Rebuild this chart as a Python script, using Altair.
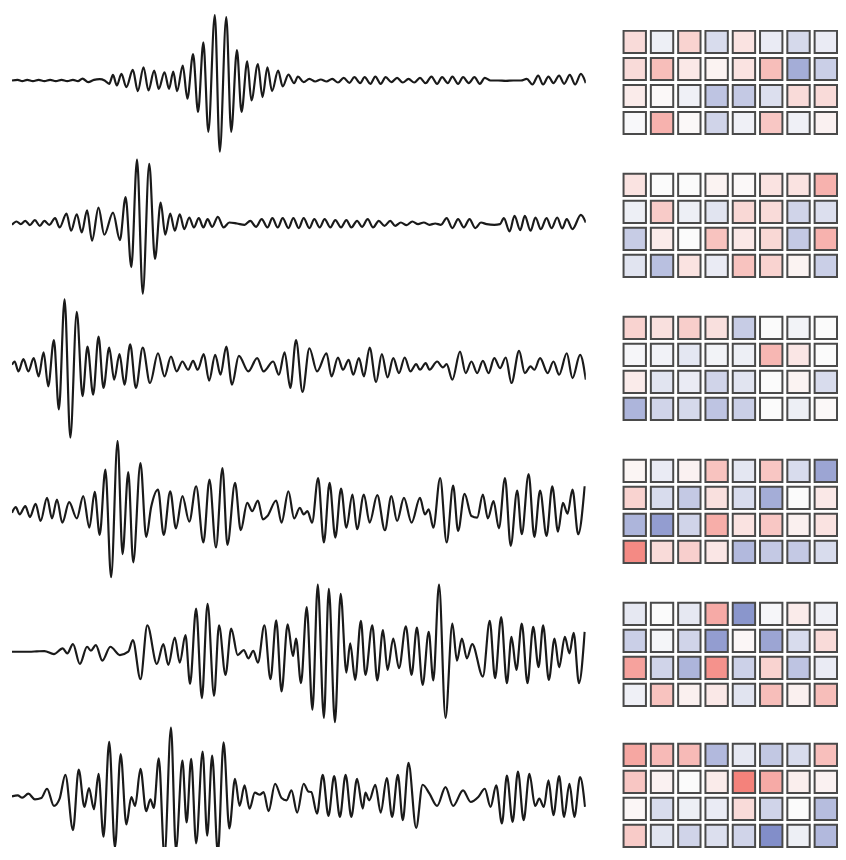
import altair as alt
import pandas as pd

# ---- waveform readings: (time sample, amplitude) ----
wave1 = [(35,0),(50,2),(62,-2),(75,2),(90,-2),(105,2),(120,-2),(135,2),(150,-2),(165,2),(180,-2),(195,2),(208,-2),(220,6),(235,-5),(250,2),(265,4),(278,0),(290,-10),(300,17),(310,-15),(322,20),(335,-20),(352,32),(365,-32),(380,40),(393,-30),(408,30),(420,-25),(435,25),(447,-25),(458,27),(468,-32),(483,45),(495,-55),(510,80),(523,-95),(537,115),(550,-155),(567,198),(580,-215),(597,192),(610,-155),(625,92),(637,-95),(652,58),(663,-60),(680,50),(692,-50),(705,40),(717,-32),(733,30),(745,-18),(760,18),(775,-8),(785,12),(800,-5),(815,5),(830,-3),(845,3),(860,-3),(875,5),(890,-6),(905,8),(920,-7),(933,10),(948,-8),(960,10),(975,-10),(988,12),(1002,-10),(1015,10),(1030,-5),(1045,8),(1060,-6),(1075,5),(1090,-6),(1105,8),(1120,-8),(1135,12),(1150,-10),(1163,10),(1178,-8),(1190,12),(1205,-10),(1218,10),(1233,-8),(1248,10),(1262,-10),(1275,8),(1290,0),(1310,0),(1330,-1),(1350,0),(1370,0),(1385,5),(1400,-12),(1415,15),(1428,-12),(1442,12),(1455,-8),(1470,15),(1483,-10),(1498,17),(1512,-12),(1527,20),(1540,-8)]

wave2 = [(35,-4),(47,6),(58,-2),(70,8),(82,-5),(95,10),(108,-7),(120,8),(133,-4),(148,16),(160,-12),(178,30),(190,-22),(205,28),(218,-27),(232,40),(245,-52),(262,48),(277,-34),(300,33),(318,-50),(333,80),(348,-132),(363,193),(378,-212),(395,180),(410,-107),(425,63),(437,-34),(450,30),(462,-22),(475,28),(487,-17),(500,18),(512,-12),(525,16),(537,-12),(548,13),(560,-10),(575,20),(590,-12),(605,3),(625,0),(645,-4),(660,8),(675,-10),(690,13),(705,-12),(718,16),(732,-12),(745,16),(760,-14),(773,16),(787,-14),(800,16),(815,-14),(828,13),(842,-12),(855,13),(870,-12),(883,10),(898,-12),(912,10),(925,-12),(940,8),(953,-10),(968,13),(982,-12),(997,8),(1012,-7),(1027,8),(1040,-7),(1055,3),(1070,-5),(1085,6),(1100,-2),(1115,3),(1130,-4),(1145,0),(1160,-4),(1175,16),(1190,-14),(1205,13),(1220,-12),(1235,13),(1250,-14),(1265,3),(1280,-2),(1300,-4),(1315,-2),(1325,16),(1340,-24),(1353,23),(1368,-20),(1380,23),(1395,-22),(1408,18),(1422,-17),(1437,16),(1450,-14),(1465,18),(1478,-15),(1490,13),(1505,-17),(1527,26),(1540,3)]

wave3 = [(35,5),(42,15),(52,-15),(65,22),(78,-15),(92,25),(105,-30),(118,43),(130,-60),(145,80),(158,-130),(173,203),(188,-215),(205,165),(220,-90),(233,60),(248,-85),(262,90),(275,-65),(290,57),(303,-40),(317,37),(330,-55),(345,67),(360,-65),(378,57),(397,-50),(418,40),(435,-30),(452,30),(467,-15),(482,15),(497,-10),(510,17),(522,-10),(538,37),(552,-43),(568,35),(582,-25),(597,60),(612,-55),(630,32),(655,-15),(678,25),(695,-15),(720,15),(735,-25),(750,43),(765,-65),(780,80),(797,-77),(815,55),(835,-15),(860,40),(873,-30),(890,27),(903,-10),(918,20),(930,-25),(945,25),(958,-30),(973,57),(990,-47),(1005,37),(1020,-33),(1035,25),(1050,-20),(1065,27),(1080,-15),(1095,7),(1105,-10),(1120,10),(1130,-10),(1150,15),(1165,-3),(1175,7),(1190,-40),(1210,45),(1225,-20),(1240,15),(1255,-20),(1270,17),(1285,-20),(1300,25),(1315,-5),(1330,27),(1345,-50),(1365,47),(1380,-20),(1395,0),(1405,-10),(1420,25),(1440,-20),(1455,15),(1470,-25),(1490,40),(1505,-35),(1525,35),(1540,-40)]

wave4 = [(35,-10),(45,7),(55,-15),(70,10),(82,-23),(97,17),(110,-35),(127,35),(140,-27),(153,30),(167,-40),(185,22),(205,-27),(222,40),(238,-55),(252,53),(265,-77),(280,120),(295,-205),(312,207),(325,-135),(340,113),(353,-160),(372,140),(387,-83),(400,7),(418,60),(433,-77),(450,55),(465,-57),(482,40),(500,-37),(518,70),(537,-100),(553,90),(570,-115),(587,125),(600,-107),(620,80),(635,-63),(652,20),(665,-5),(680,27),(693,-30),(705,-20),(728,27),(742,-40),(760,55),(775,-27),(790,5),(800,-15),(810,-5),(822,-40),(838,95),(853,-100),(868,80),(883,-85),(898,63),(912,-55),(928,45),(940,-60),(958,45),(973,-40),(993,43),(1013,-63),(1030,40),(1045,-35),(1063,35),(1083,-40),(1105,35),(1118,-15),(1128,0),(1140,-55),(1158,95),(1175,-100),(1192,72),(1205,-65),(1222,47),(1240,-20),(1255,-25),(1270,45),(1283,-27),(1298,25),(1312,-57),(1328,95),(1343,-110),(1360,57),(1372,-75),(1390,107),(1405,-83),(1420,57),(1437,-80),(1452,70),(1467,-67),(1480,20),(1492,-13),(1505,60),(1520,-75),(1537,70)]

wave5 = [(35,2),(60,2),(80,2),(100,3),(120,4),(145,-5),(168,12),(180,-3),(195,25),(213,-35),(232,17),(242,5),(255,22),(272,-25),(293,17),(318,-8),(340,2),(352,37),(372,-81),(390,82),(415,-35),(432,25),(445,-38),(462,45),(475,-31),(490,52),(502,-95),(518,132),(533,-138),(548,147),(565,-131),(578,82),(595,-68),(610,72),(627,-8),(643,7),(655,-18),(668,5),(680,-31),(697,82),(713,-81),(728,97),(742,-118),(758,85),(772,-11),(780,42),(793,-93),(808,137),(823,-173),(837,205),(853,-198),(866,192),(882,-211),(897,177),(912,-61),(922,27),(935,-83),(950,95),(962,-68),(980,82),(993,-85),(1008,67),(1020,-53),(1035,42),(1050,-48),(1068,79),(1083,-68),(1097,75),(1112,-98),(1128,62),(1140,-85),(1155,205),(1172,-198),(1190,87),(1202,-25),(1215,42),(1228,-18),(1242,25),(1270,-73),(1288,95),(1302,-78),(1318,107),(1333,-93),(1345,47),(1358,-53),(1372,87),(1387,-93),(1402,77),(1416,-45),(1428,82),(1443,-83),(1458,42),(1470,-45),(1485,47),(1497,-3),(1508,59),(1522,-93),(1537,62)]

wave6 = [(35,-3),(50,0),(62,-7),(78,5),(95,-12),(112,-8),(127,20),(145,-32),(160,-10),(175,62),(195,-105),(210,78),(225,-35),(237,22),(250,-42),(262,65),(275,-125),(290,162),(305,-158),(320,125),(335,-88),(348,-5),(358,-32),(372,80),(387,-48),(398,-12),(407,-38),(420,112),(435,-185),(452,205),(465,-165),(482,105),(493,-82),(505,110),(518,-145),(535,132),(547,-122),(560,120),(575,-175),(590,160),(605,-100),(620,50),(632,-32),(645,30),(658,-40),(672,8),(685,2),(695,10),(708,-48),(725,35),(742,-8),(755,-15),(768,15),(783,-52),(800,35),(812,12),(820,10),(835,-55),(850,62),(865,-62),(880,58),(895,-65),(910,62),(925,-65),(940,50),(955,-40),(962,8),(972,-15),(988,32),(1002,-52),(1018,52),(1032,-65),(1047,62),(1060,-75),(1075,98),(1095,-98),(1112,32),(1130,5),(1150,-32),(1172,25),(1192,-32),(1218,15),(1238,-20),(1258,-5),(1275,20),(1290,-35),(1305,30),(1320,-85),(1333,60),(1348,-80),(1362,72),(1377,-75),(1392,65),(1407,-32),(1418,-10),(1430,-35),(1442,45),(1455,-60),(1470,58),(1483,-65),(1497,35),(1510,-65),(1525,55),(1538,-35)]

# ---- 4 x 8 weight grids ----
heat1 = [[0.20,-0.08,0.25,-0.20,0.15,-0.10,-0.22,-0.10],
         [0.20,0.38,0.12,0.05,0.15,0.38,-0.50,-0.28],
         [0.10,0.02,-0.07,-0.35,-0.32,-0.18,0.20,0.20],
         [-0.02,0.45,0.02,-0.25,-0.07,0.32,-0.07,0.06]]
heat2 = [[0.15,0.00,0.00,0.05,0.02,0.15,0.15,0.45],
         [-0.08,0.30,-0.08,-0.15,0.22,0.20,-0.25,-0.18],
         [-0.30,0.10,0.00,0.35,0.12,0.22,-0.32,0.45],
         [-0.15,-0.38,0.15,-0.10,0.35,0.25,0.05,-0.28]]
heat3 = [[0.25,0.17,0.28,0.17,-0.30,0.00,-0.05,0.00],
         [-0.03,-0.06,-0.13,-0.05,-0.08,0.42,0.13,0.00],
         [0.10,-0.15,-0.10,-0.25,-0.15,0.00,0.05,-0.20],
         [-0.45,-0.25,-0.22,-0.35,-0.28,0.00,-0.08,0.02]]
heat4 = [[0.04,-0.10,0.06,0.35,-0.13,0.33,-0.20,-0.55],
         [0.25,-0.20,-0.32,0.17,-0.20,-0.50,0.00,0.12],
         [-0.45,-0.60,-0.25,0.48,0.15,0.32,0.07,0.15],
         [0.70,0.20,0.27,0.13,-0.42,-0.32,-0.32,-0.20]]
heat5 = [[-0.12,0.00,-0.12,0.50,-0.65,-0.03,0.10,-0.07],
         [-0.28,-0.04,-0.25,-0.60,0.03,-0.55,-0.20,0.20],
         [0.55,-0.25,-0.45,0.65,-0.27,0.25,-0.35,-0.10],
         [-0.07,0.35,0.07,0.12,-0.15,0.38,0.07,0.38]]
heat6 = [[0.52,0.40,0.40,-0.42,-0.12,-0.33,-0.20,0.37],
         [0.33,0.06,0.00,0.10,0.75,0.50,0.08,0.06],
         [0.03,-0.20,-0.08,-0.10,0.20,-0.25,0.00,-0.40],
         [0.30,-0.15,-0.25,-0.18,-0.25,-0.70,-0.08,-0.42]]

waves = [wave1, wave2, wave3, wave4, wave5, wave6]
heats = [heat1, heat2, heat3, heat4, heat5, heat6]

ROW_H = 144
LAST_H = 122
Y_HI = 210


def wave_chart(pairs, height):
    df = pd.DataFrame(pairs, columns=["t", "amp"])
    lo = Y_HI - height * 3
    return alt.Chart(df).mark_line(
        color="#1a1a1a", strokeWidth=2.2, interpolate="monotone", clip=True
    ).encode(
        x=alt.X("t:Q", scale=alt.Scale(domain=[35, 1540], nice=False, zero=False), axis=None),
        y=alt.Y("amp:Q", scale=alt.Scale(domain=[lo, Y_HI], nice=False, zero=False), axis=None),
    ).properties(width=578, height=height)


def heat_chart(grid, height):
    recs = []
    for r, vals in enumerate(grid):
        for c, v in enumerate(vals):
            recs.append({"r": r, "c": c, "v": v})
    df = pd.DataFrame(recs)
    step = 27.2
    inner = 0.18
    total_units = height / step
    po = max(0.0, (total_units - (4 - inner)) / 2)
    leftover = height - step * (4 - inner)
    align = min(1.0, 20.0 / leftover) if leftover > 0 else 0.5
    return alt.Chart(df).mark_rect(stroke="#4a4a4a", strokeWidth=2.0).encode(
        x=alt.X("c:O", scale=alt.Scale(paddingInner=inner, paddingOuter=0), axis=None),
        y=alt.Y("r:O", scale=alt.Scale(paddingInner=inner, paddingOuter=po, align=align), axis=None),
        color=alt.Color(
            "v:Q",
            scale=alt.Scale(domain=[-0.75, 0, 0.75],
                            range=["#7986c5", "#fbfbfb", "#f4827b"],
                            interpolate="rgb", clamp=True),
            legend=None,
        ),
    ).properties(width=215, height=height)


rows = []
n = len(waves)
for i, (w, h) in enumerate(zip(waves, heats)):
    hh = LAST_H if i == n - 1 else ROW_H
    rows.append(alt.hconcat(wave_chart(w, hh), heat_chart(h, hh), spacing=37))

chart = alt.vconcat(*rows, spacing=0).properties(
    padding={"left": 4, "top": 0, "right": 0, "bottom": 0},
    background="white",
).configure_view(stroke="transparent", strokeWidth=0)

chart.save("out.html", embed_options={"renderer": "svg", "actions": False})
